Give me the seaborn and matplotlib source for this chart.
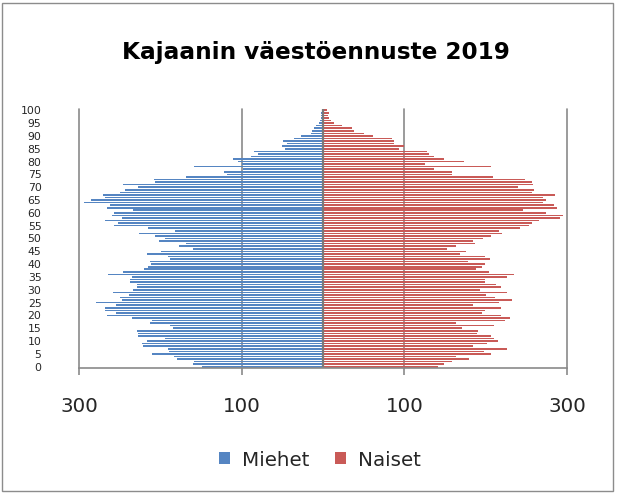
import matplotlib
matplotlib.use("Agg")
import matplotlib.pyplot as plt
from matplotlib.patches import Rectangle, Patch
import numpy as np
import pandas as pd
import seaborn as sns

# ---- data (ages 0..100) ----
ages = list(range(101))
miehet = [149, 160, 159, 180, 183, 210, 189, 191, 221, 223,
          217, 194, 227, 227, 229, 185, 188, 213, 210, 235,
          265, 255, 268, 268, 254, 279, 247, 249, 238, 258,
          234, 229, 229, 237, 237, 235, 264, 246, 220, 215,
          211, 213, 188, 191, 216, 199, 160, 177, 168, 202,
          194, 206, 226, 182, 215, 257, 252, 268, 247, 259,
          257, 233, 265, 262, 294, 285, 268, 271, 249, 243,
          227, 246, 206, 208, 168, 118, 122, 98, 158, 100,
          105, 111, 89, 80, 85, 47, 51, 44, 49, 36,
          27, 15, 14, 10.5, 9, 4.5, 3.5, 3, 2, 2,
          1]
naiset = [141, 149, 159, 180, 163, 206, 198, 226, 185, 202,
          215, 210, 207, 189, 191, 171, 210, 164, 224, 230,
          219, 195, 199, 219, 184, 216, 232, 212, 200, 226,
          193, 219, 213, 199, 199, 226, 235, 204, 188, 195,
          199, 178, 205, 199, 169, 176, 152, 163, 187, 184,
          197, 207, 220, 216, 242, 253, 257, 266, 291, 295,
          274, 246, 288, 284, 270, 274, 271, 285, 257, 260,
          240, 258, 257, 248, 209, 159, 159, 137, 206, 126,
          173, 149, 137, 130, 128, 93, 100, 87, 87, 85,
          62, 51, 38, 35.5, 23, 13.5, 10, 7, 5.7, 7.8,
          5.3]
series_names = ["Miehet", "Naiset"]
x_ticks = [-300, -100, 100, 300]
x_tick_labels = ["300", "100", "100", "300"]
y_ticks = list(range(0, 101, 5))
y_tick_labels = [str(v) for v in y_ticks]
title = "Kajaanin väestöennuste 2019"

blue = "#5585c2"
red = "#c95a57"
grid_c = "#8a8a8a"

sns.set_theme(style="white")
plt.rcParams["font.family"] = ["DejaVu Sans"]

W, H = 618, 493
fig = plt.figure(figsize=(W / 100, H / 100), dpi=100)
fig.patch.set_facecolor("white")

ax = fig.add_axes([79 / W, (H - 368) / H, (567 - 79) / W, (368 - 109) / H])

df = pd.DataFrame({"age": ages,
                   "Miehet": [-v for v in miehet],
                   "Naiset": naiset})

sns.barplot(data=df, x="Miehet", y="age", orient="h", native_scale=True,
            color=blue, saturation=1, width=0.62, errorbar=None,
            linewidth=0, edgecolor="none", ax=ax, zorder=2)
sns.barplot(data=df, x="Naiset", y="age", orient="h", native_scale=True,
            color=red, saturation=1, width=0.62, errorbar=None,
            linewidth=0, edgecolor="none", ax=ax, zorder=2)

ax.set_xlim(-300, 300)
ax.set_ylim(-0.5, 100.5)
ax.set_xlabel("")
ax.set_ylabel("")

for xv in x_ticks:
    ax.axvline(xv, color=grid_c, lw=1.2, zorder=1, clip_on=False)
ax.axvline(0, color="#7a7a7a", lw=1.6, zorder=3)

ax.set_xticks(x_ticks)
ax.set_xticklabels(x_tick_labels)
ax.set_yticks(y_ticks)
ax.set_yticklabels(y_tick_labels)

for s in ["top", "left", "right"]:
    ax.spines[s].set_visible(False)
ax.spines["bottom"].set_color(grid_c)
ax.spines["bottom"].set_linewidth(1.2)
ax.spines["bottom"].set_zorder(4)

ax.tick_params(axis="x", direction="out", length=5, width=1.2, color=grid_c,
               labelsize=14.3, pad=16, bottom=True)
ax.tick_params(axis="y", length=0, labelsize=7.8, pad=27, left=True)
ax.grid(False)

fig.text(316 / W, 1 - 52 / H, title, ha="center", va="center",
         fontsize=16.7, fontweight="bold", color="black")

handles = [Patch(facecolor=blue, edgecolor="none"),
           Patch(facecolor=red, edgecolor="none")]
fig.legend(handles, series_names, loc="center",
           bbox_to_anchor=(320 / W, 1 - 460 / H), ncol=2, frameon=False,
           fontsize=14.3, handlelength=0.55, handleheight=0.55,
           handletextpad=0.6, columnspacing=1.3)

fig.add_artist(Rectangle((2 / W, 2 / H), 611 / W, 488 / H,
                         transform=fig.transFigure, fill=False,
                         edgecolor="#8c8c8c", lw=1))

fig.savefig("out.png", dpi=100)
